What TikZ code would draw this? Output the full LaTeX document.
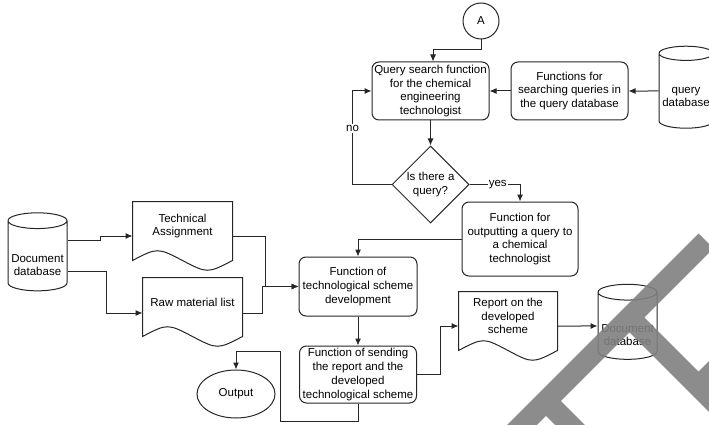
\documentclass[tikz,border=0pt]{standalone}
\usepackage{fontspec}
\setmainfont{Liberation Sans}
\usetikzlibrary{arrows.meta,positioning,shapes,calc}
\tikzstyle{func}=[rectangle,rounded corners=7pt,draw=black!85,line width=1pt,fill=white,
align=center,inner sep=0pt]
\tikzstyle{dbase}=[cylinder,shape border rotate=90,aspect=0.3,draw=black!85,line width=1pt,
fill=white,align=center,inner sep=0pt]
\tikzstyle{check}=[diamond,aspect=1,draw=black!85,line width=1pt,fill=white,align=center,
inner sep=0pt,minimum width=77pt,minimum height=77pt]
\tikzstyle{docu}=[rectangle,align=center,inner sep=0pt,minimum width=99pt,minimum height=48pt]
\tikzstyle{term}=[ellipse,draw=black!85,line width=1pt,minimum width=78pt,minimum height=48pt]
\tikzstyle{conn}=[circle,draw=black!85,line width=1pt,minimum size=36pt,inner sep=0pt]
\tikzstyle{wmark}=[line width=21pt,draw=black!50,opacity=0.9]
% outline of a document node (wavy bottom)
\newcommand{\docwave}[1]{%
  \draw[line width=1pt,draw=black!85] (#1.north west) -- (#1.north east) -- ([yshift=-10pt]#1.south east)
    .. controls ([xshift=-25pt,yshift=-23pt]#1.south east) .. ([yshift=-10pt]#1.south)
    .. controls ([xshift=25pt,yshift=3pt]#1.south west) .. ([yshift=-10pt]#1.south west) -- cycle;}

\begin{document}
\begin{tikzpicture}[x=1pt,y=-1pt,font=\fontsize{11.5}{13.7}\selectfont,line width=1pt,
            draw=black!85,>={Latex[length=7pt,width=6pt]}]
            \useasboundingbox (0,0) rectangle (709,425);

            % query search part

            \node[func,minimum width=117pt,minimum height=58pt] (qsearch) at (430.5,91) {Query search function\\for the chemical\\engineering\\technologist};
            \node[func,right=21pt of qsearch,minimum width=117pt,minimum height=58pt] (qfunc) {Functions for\\searching queries in\\the query database};
            \node[dbase,right=30pt of qfunc,minimum width=54pt,minimum height=82pt,text height=32pt] (qdb) {query\\database};
            \node[conn,above=22pt of qsearch,xshift=50.5pt] (A) {A};
            \node[check,below=25pt of qsearch] (isq) {Is there a\\query?};
            \node[func,minimum width=116pt,minimum height=74pt] (outq) at (520,239) {Function for\\outputting a query to\\a chemical\\technologist};

            \path[->] (qdb) edge node {} (qfunc);
            \path[->] (qfunc) edge node {} (qsearch);
            \path[->] (qsearch) edge node {} (isq);
            \draw[->] (A.south) -- ++(0,10) -| ([xshift=2.5pt]qsearch.north);
            \draw[->] (isq.west) -- ++(-39,0) |- (qsearch.west) node[pos=0.3,fill=white,inner sep=1pt] {no};
            \draw[->] (isq.east) -| (outq.north) node[pos=0.28,fill=white,inner sep=1pt] {yes};

            % scheme development part

            \node[func,minimum width=118pt,minimum height=59pt] (techdev) at (358,286.5) {Function of\\technological scheme\\development};
            \node[func,below=29pt of techdev,minimum width=117pt,minimum height=57pt] (send) {Function of sending\\the report and the\\developed\\technological scheme};
            \node[docu] (techasg) at (182.5,226) {Technical\\Assignment};
            \node[docu] (rawlist) at (192.5,302) {Raw material list};
            \node[dbase,minimum width=59pt,minimum height=78pt,text height=40pt] (docdb) at (37.5,256) {Document\\database};
            \node[term] (output) at (236,394) {Output};
            \node[docu,minimum width=98pt] (report) at (508,316) {Report on the\\developed\\scheme};
            \node[dbase,minimum width=59pt,minimum height=75pt,text height=40pt] (docdb2) at (627.5,326) {Document\\database};
            \docwave{techasg}
            \docwave{rawlist}
            \docwave{report}

            \draw[->] (outq.west) -| (techdev.north);
            \draw[->] ([yshift=15pt]docdb.east) -- ++(33,0) |- ([yshift=-10pt]techasg.west);
            \draw[->] ([yshift=-16pt]docdb.east) -- ++(39,0) |- ([yshift=-11pt]rawlist.west);
            \draw[->] ([yshift=-10pt]techasg.east) -- ++(33,0) |- (techdev.west);
            \draw[->] ([yshift=-11pt]rawlist.east) -- ++(20,0) |- (techdev.west);
            \path[->] (techdev) edge node {} (send);
            \draw[->] (send.south) -- ++(0,18) -| ($(output.north)+(44,-18)$) -| (output.north);
            \draw[->] (send.east) -- ++(23,0) |- ([yshift=-10pt]report.west);
            \draw[->] ([yshift=-10pt]report.east) -- (docdb2.west);

            % grey stripes over the corner
            \begin{scope}
            \clip (0,0) rectangle (709,425);
            \draw[wmark] (706,241) -- (510,437) (629.5,317.5) -- (730,418)
                         (698.5,386.5) -- (730,355) (546,401) -- (580,435);
            \end{scope}

\end{tikzpicture}
\end{document}
